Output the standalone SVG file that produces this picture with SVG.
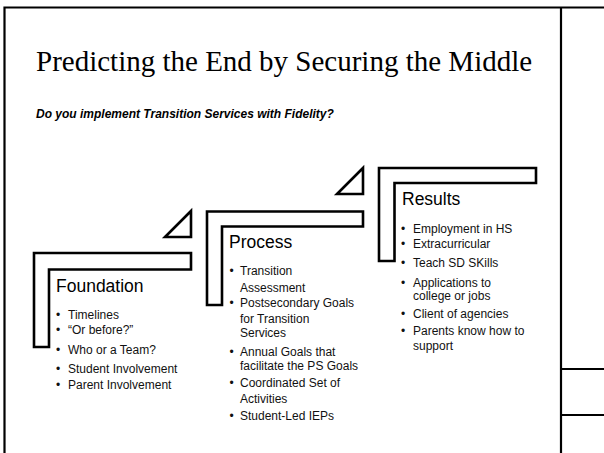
<svg xmlns="http://www.w3.org/2000/svg" width="604" height="453" viewBox="0 0 604 453">
<style>
.frame{fill:none;stroke:#000;stroke-width:2.2}
.step{fill:#fff;stroke:#000;stroke-width:2.6;stroke-linejoin:miter}
.title{font-family:"Liberation Serif",serif;font-size:29px;fill:#000}
.sub{font-family:"Liberation Sans",Arial,sans-serif;font-size:12px;font-weight:bold;font-style:italic;fill:#000}
.head{font-family:"Liberation Sans",Arial,sans-serif;font-size:17.5px;fill:#000}
.item{font-family:"Liberation Sans",Arial,sans-serif;font-size:12px;fill:#111}
</style>
<rect x="0" y="0" width="604" height="453" fill="#fff"/>
<g id="slide-frame">
<path class="frame" d="M4.5,453 V7.5 H604 M561,7.5 V453 M561,369 H604 M561,415 H604"/>
</g>
<g id="title">
<text class="title" x="36" y="71">Predicting the End by Securing the Middle</text>
<text class="sub" x="36" y="117.5">Do you implement Transition Services with Fidelity?</text>
</g>
<g id="connectors">
<polygon class="step" points="191,211 191,237 165,237"/>
<polygon class="step" points="363,168 363,194 337,194"/>
</g>
<g id="foundation">
<polygon class="step" points="34,253 191,253 191,269.5 49,269.5 49,347 34,347"/>
<text class="head" x="56" y="292">Foundation</text>
<g class="item">
<text x="56" y="318.5">•</text><text x="68" y="318.5">Timelines</text>
<text x="56" y="334">•</text><text x="68" y="334">“Or before?”</text>
<text x="56" y="354">•</text><text x="68" y="354">Who or a Team?</text>
<text x="56" y="372.5">•</text><text x="68" y="372.5">Student Involvement</text>
<text x="56" y="388.5">•</text><text x="68" y="388.5">Parent Involvement</text>
</g>
</g>
<g id="process">
<polygon class="step" points="207,211.5 363,211.5 363,226.5 222,226.5 222,305 207,305"/>
<text class="head" x="229" y="248">Process</text>
<g class="item">
<text x="229.5" y="275">•</text><text x="240" y="275">Transition</text>
<text x="240" y="292">Assessment</text>
<text x="229.5" y="307">•</text><text x="240" y="307">Postsecondary Goals</text>
<text x="240" y="323">for Transition</text>
<text x="240" y="337">Services</text>
<text x="229.5" y="356">•</text><text x="240" y="356">Annual Goals that</text>
<text x="240" y="370">facilitate the PS Goals</text>
<text x="229.5" y="387">•</text><text x="240" y="387">Coordinated Set of</text>
<text x="240" y="403">Activities</text>
<text x="229.5" y="420">•</text><text x="240" y="420">Student-Led IEPs</text>
</g>
</g>
<g id="results">
<polygon class="step" points="379,168 536,168 536,183 394.5,183 394.5,261 379,261"/>
<text class="head" x="402" y="205">Results</text>
<g class="item">
<text x="401" y="233">•</text><text x="413" y="233">Employment in HS</text>
<text x="401" y="248">•</text><text x="413" y="248">Extracurricular</text>
<text x="401" y="267">•</text><text x="413" y="267">Teach SD SKills</text>
<text x="401" y="287">•</text><text x="413" y="287">Applications to</text>
<text x="413" y="299.5">college or jobs</text>
<text x="401" y="318">•</text><text x="413" y="318">Client of agencies</text>
<text x="401" y="335">•</text><text x="413" y="335">Parents know how to</text>
<text x="413" y="350">support</text>
</g>
</g>
</svg>
